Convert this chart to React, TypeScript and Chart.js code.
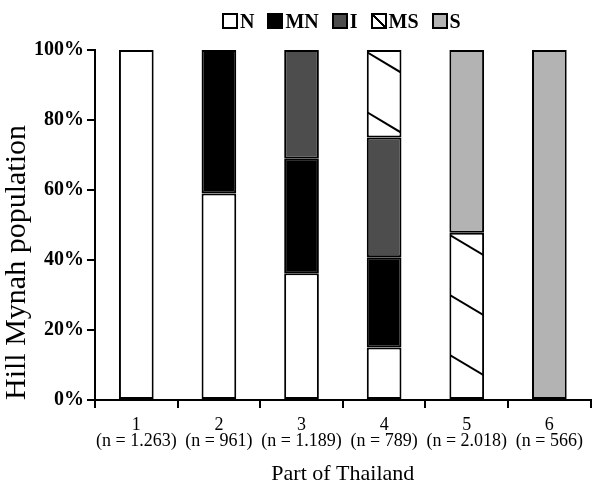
import React, { useEffect, useRef } from 'react';
import { Chart, registerables } from 'chart.js';

Chart.register(...registerables);

const FONT = '"Liberation Serif", "Times New Roman", serif';

const categories = ['1', '2', '3', '4', '5', '6'];
const sampleSizes = ['1.263', '961', '1.189', '789', '2.018', '566'];
const seriesNames = ['N', 'MN', 'I', 'MS', 'S'];
const nValues = [100, 59, 36.2, 15, null, null];
const mnValues = [null, 41, 32.7, 25.8, null, null];
const iValues = [null, null, 31.1, 34.2, null, null];
const msValues = [null, null, null, 25, 47.8, null];
const sValues = [null, null, null, null, 52.2, 100];
const yTicks = [0, 20, 40, 60, 80, 100];

const seriesColors = ['#ffffff', '#000000', '#4d4d4d', '#ffffff', '#b3b3b3'];
const seriesHatch = [false, false, false, true, false];

const hatchPlugin = {
  id: 'hatchBars',
  afterDatasetsDraw(chart: any) {
    const ctx = chart.ctx;
    chart.data.datasets.forEach((ds: any, di: number) => {
      if (!ds.hatch) return;
      const meta = chart.getDatasetMeta(di);
      meta.data.forEach((el: any, i: number) => {
        if (ds.data[i] == null) return;
        const { x, y, base, width } = el.getProps(['x', 'y', 'base', 'width'], true);
        const left = x - width / 2;
        const right = x + width / 2;
        const top = Math.min(y, base);
        const bottom = Math.max(y, base);
        ctx.save();
        ctx.beginPath();
        ctx.rect(left + 1, top + 1, width - 2, bottom - top - 2);
        ctx.clip();
        ctx.strokeStyle = '#000';
        ctx.lineWidth = 2;
        const drop = width * 0.6;
        for (let yy = top + 2; yy < bottom; yy += 60) {
          ctx.beginPath();
          ctx.moveTo(left, yy);
          ctx.lineTo(right, yy + drop);
          ctx.stroke();
        }
        ctx.restore();
      });
    });
  },
};

export default function App() {
  const ref = useRef<HTMLCanvasElement | null>(null);

  useEffect(() => {
    if (!ref.current) return;
    const allValues = [nValues, mnValues, iValues, msValues, sValues];
    const chart = new Chart(ref.current, {
      type: 'bar',
      data: {
        labels: categories.map((c, i) => [c, `(n = ${sampleSizes[i]})`]),
        datasets: seriesNames.map((name, i) => ({
          label: name,
          data: allValues[i],
          backgroundColor: seriesColors[i],
          borderColor: '#000000',
          borderWidth: 2,
          borderSkipped: false,
          categoryPercentage: 1,
          barPercentage: 0.42,
          hatch: seriesHatch[i],
        })) as any,
      },
      options: {
        animation: false,
        responsive: false,
        devicePixelRatio: 1,
        layout: { padding: { top: 50, right: 1, left: 0, bottom: 0 } },
        plugins: {
          legend: { display: false },
          tooltip: { enabled: false },
        },
        scales: {
          x: {
            stacked: true,
            grid: {
              display: true,
              drawOnChartArea: false,
              drawTicks: true,
              tickLength: 8,
              color: '#000',
              lineWidth: 2,
              offset: true,
            },
            border: { color: '#000', width: 2 },
            ticks: {
              color: '#000',
              font: { family: FONT, size: 18, lineHeight: 0.85 },
              padding: 10,
              maxRotation: 0,
              autoSkip: false,
            },
            title: {
              display: true,
              text: 'Part of Thailand',
              color: '#000',
              font: { family: FONT, size: 22 },
              padding: { top: 0, bottom: -6 },
            },
            afterFit(scale: any) {
              scale.height = 81;
            },
          },
          y: {
            stacked: true,
            min: 0,
            max: 100,
            afterBuildTicks(scale: any) {
              scale.ticks = yTicks.map((v) => ({ value: v }));
            },
            grid: {
              display: true,
              drawOnChartArea: false,
              drawTicks: true,
              tickLength: 8,
              color: '#000',
              lineWidth: 2,
            },
            border: { color: '#000', width: 2 },
            ticks: {
              color: '#000',
              font: { family: FONT, size: 20, weight: 'bold' },
              padding: 3,
              callback: (v: any) => `${v}%`,
            },
            title: {
              display: true,
              text: 'Hill Mynah population',
              align: 'start',
              color: '#000',
              font: { family: FONT, size: 30 },
              padding: { top: -1, bottom: 0 },
            },
            afterFit(scale: any) {
              scale.width = 95;
            },
          },
        },
      },
      plugins: [hatchPlugin],
    });
    return () => chart.destroy();
  }, []);

  const hatchBg =
    'linear-gradient(to top right, transparent calc(50% - 1px), #000 calc(50% - 1px), #000 calc(50% + 1px), transparent calc(50% + 1px))';

  return (
    <div style={{ position: 'fixed', left: 0, top: 0, width: 593, height: 481, background: '#fff' }}>
      <canvas ref={ref} width={593} height={481} style={{ position: 'absolute', left: 0, top: 0 }} />
      <div
        style={{
          position: 'absolute',
          left: 222,
          top: 11,
          display: 'flex',
          alignItems: 'center',
          fontFamily: FONT,
          fontWeight: 'bold',
          fontSize: 20,
          color: '#000',
          lineHeight: '20px',
        }}
      >
        {seriesNames.map((name, i) => (
          <div key={name} style={{ display: 'flex', alignItems: 'center', marginRight: i < seriesNames.length - 1 ? 13 : 0 }}>
            <span
              style={{
                display: 'inline-block',
                width: 16,
                height: 16,
                boxSizing: 'border-box',
                border: '2px solid #000',
                background: seriesHatch[i] ? `${hatchBg}, #fff` : seriesColors[i],
                marginRight: 2,
              }}
            />
            <span>{name}</span>
          </div>
        ))}
      </div>
    </div>
  );
}
